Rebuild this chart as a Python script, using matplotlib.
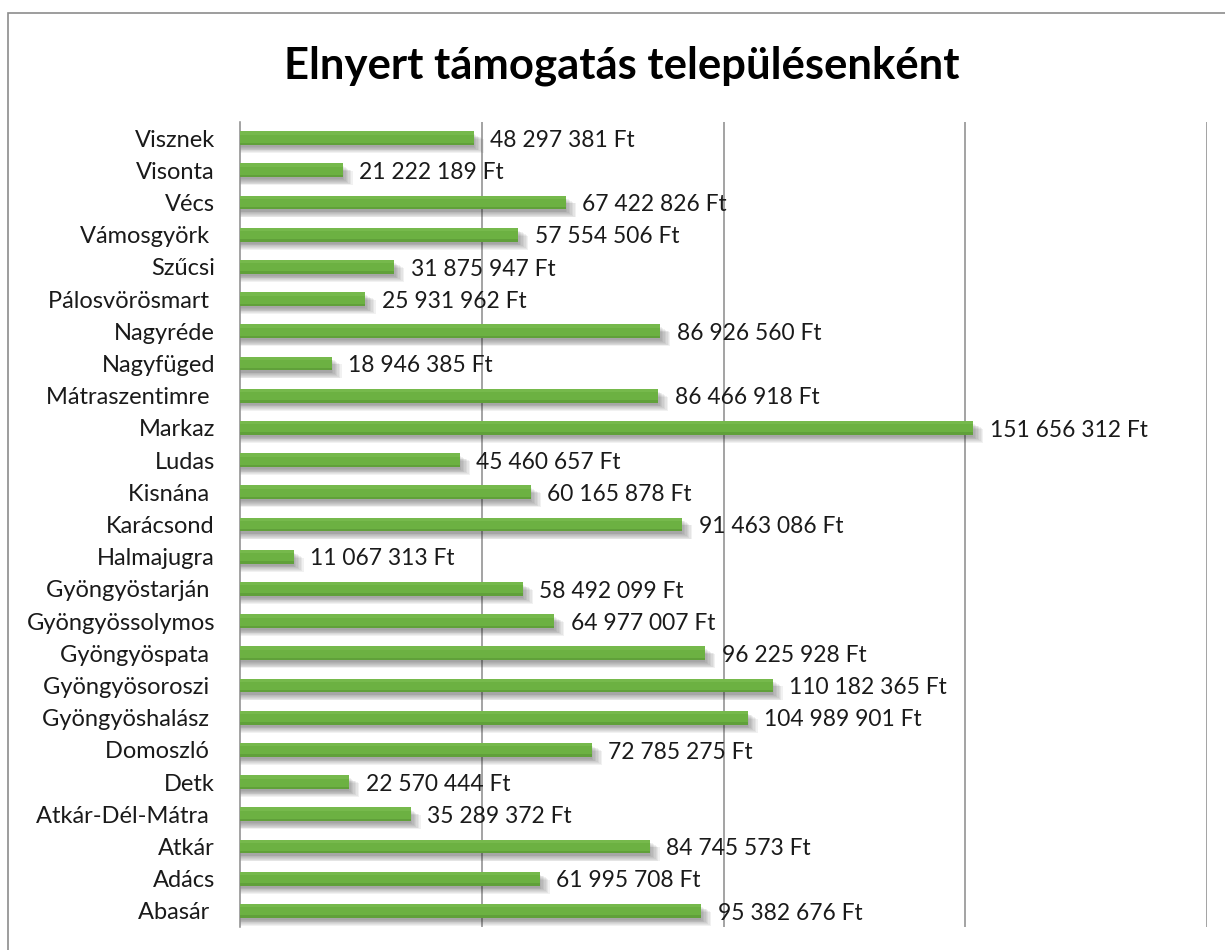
import matplotlib
matplotlib.use("Agg")
import matplotlib.pyplot as plt
from matplotlib.patches import Rectangle

settlements = ["Visznek", "Visonta", "Vécs", "Vámosgyörk ", "Szűcsi", "Pálosvörösmart ",
               "Nagyréde", "Nagyfüged", "Mátraszentimre ", "Markaz", "Ludas", "Kisnána ",
               "Karácsond", "Halmajugra", "Gyöngyöstarján ", "Gyöngyössolymos", "Gyöngyöspata ",
               "Gyöngyösoroszi ", "Gyöngyöshalász ", "Domoszló ", "Detk", "Atkár-Dél-Mátra ",
               "Atkár", "Adács", "Abasár "]
amounts = [48297381, 21222189, 67422826, 57554506, 31875947, 25931962,
           86926560, 18946385, 86466918, 151656312, 45460657, 60165878,
           91463086, 11067313, 58492099, 64977007, 96225928,
           110182365, 104989901, 72785275, 22570444, 35289372,
           84745573, 61995708, 95382676]
grid_values = [50e6, 100e6, 150e6, 200e6]
title = "Elnyert támogatás településenként"

font = "Lato"
fig = plt.figure(figsize=(12.25, 9.5), dpi=100)
# chart border
fig.add_artist(Rectangle((8/1225, -0.1), 1.2, 1 - 13/950 + 0.1, transform=fig.transFigure,
                         fill=False, edgecolor="#8c8c8c", linewidth=1.2))
ax = fig.add_axes([240/1225, 1 - 927/950, (1207-240)/1225, (927-122)/950])

n = len(settlements)
ys = list(range(n))
h = 0.43
# soft shadows under the bars
for k in range(8):
    off = 0.07 + k * 0.025
    ax.barh([y + off for y in ys], [a + 0.3e6 * k for a in amounts], height=h,
            color="#202020", alpha=0.06, zorder=2, linewidth=0)
ax.barh(ys, amounts, height=h, color="#6cb142", zorder=3, linewidth=0)
ax.barh([y - h * 0.38 for y in ys], amounts, height=h * 0.24, color="#76b94c", zorder=4, linewidth=0)
ax.barh([y + h * 0.41 for y in ys], amounts, height=h * 0.18, color="#60a03a", zorder=4, linewidth=0)

for y, a in zip(ys, amounts):
    s = f"{a:,}".replace(",", " ") + " Ft"
    ax.text(a + 3.4e6, y + 0.07, s, va="center", ha="left", fontsize=16.4,
            family=font, color="#1a1a1a", zorder=5)

ax.set_xlim(0, 200e6)
ax.set_ylim(n - 0.5, -0.5)
for g in grid_values:
    ax.axvline(g, color="#8a8a8a", linewidth=1.1, zorder=1)
ax.set_yticks(ys)
ax.set_yticklabels(settlements, fontsize=17, family=font, color="#1a1a1a")
ax.tick_params(axis="y", length=0, pad=18)
ax.set_xticks([])
for sp in ["top", "right", "bottom"]:
    ax.spines[sp].set_visible(False)
ax.spines["left"].set_color("#8a8a8a")
ax.spines["left"].set_linewidth(1.1)

fig.text(622/1225, 1 - 66/950, title, ha="center", va="center", fontsize=31.4,
         fontweight="bold", family=font, color="#000000")

fig.savefig("out.png", dpi=100, facecolor="white")
